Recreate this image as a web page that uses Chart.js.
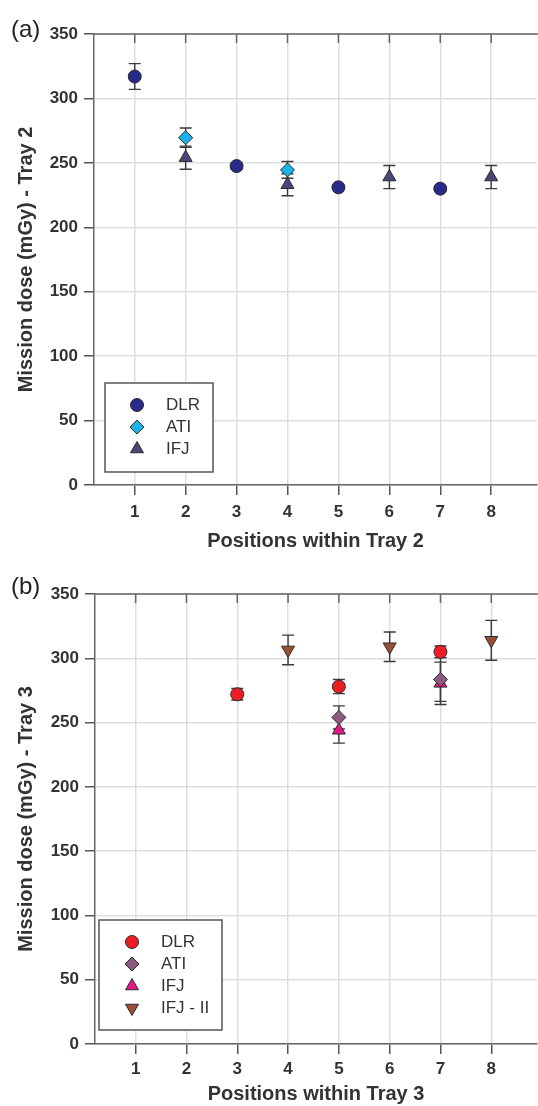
<!DOCTYPE html>
<html>
<head>
<meta charset="utf-8">
<script src="https://cdn.jsdelivr.net/npm/chart.js@4.4.1/dist/chart.umd.min.js"></script>
<style>
body { margin: 0; background: #fff; font-family: "Liberation Sans", Arial, sans-serif; }
#wrap { position: relative; width: 538px; height: 1106px; }
canvas { position: absolute; left: 0; }
.panel { position: absolute; left: 11px; font-size: 24px; color: #222; line-height: 1; }
</style>
</head>
<body>
<div id="wrap">
  <canvas id="chartA" width="538" height="553" style="top:0"></canvas>
  <canvas id="chartB" width="538" height="553" style="top:553px"></canvas>
  <div class="panel" style="top:17px">(a)</div>
  <div class="panel" style="top:574px">(b)</div>
</div>
<script>
// axis ticks
var positions = [1, 2, 3, 4, 5, 6, 7, 8];
var doseTicks = [0, 50, 100, 150, 200, 250, 300, 350];

// Tray 2 (panel a)
var dlr2Pos = [1, 3, 5, 7];
var dlr2Dose = [317, 247.5, 231, 230];
var dlr2Err = [10, 2.5, 1.5, 1.5];
var ati2Pos = [2, 4];
var ati2Dose = [269.5, 244.5];
var ati2Err = [7.5, 6.5];
var ifj2Pos = [2, 4, 6, 8];
var ifj2Dose = [254, 233, 239, 239];
var ifj2Err = [9, 8.5, 9, 9];

// Tray 3 (panel b)
var dlr3Pos = [3, 5, 7];
var dlr3Dose = [272, 278, 305];
var dlr3Err = [4.5, 5.5, 4.5];
var ati3Pos = [5, 7];
var ati3Dose = [254, 283.5];
var ati3Err = [9, 17];
var ifj3Pos = [5, 7];
var ifj3Dose = [244, 280.5];
var ifj3Err = [10, 16.5];
var ifjII3Pos = [4, 6, 8];
var ifjII3Dose = [306.5, 309, 314];
var ifjII3Err = [11.5, 11.5, 15.5];

var FONT = '"Liberation Sans", Arial, sans-serif';
Chart.defaults.font.family = FONT;

function series(label, xs, ys, errs, style, color, radius, rotation) {
  return {
    label: label,
    data: xs.map(function(x, i) { return {x: x, y: ys[i], err: errs[i]}; }),
    pointStyle: style,
    pointRotation: rotation || 0,
    pointRadius: radius,
    pointHoverRadius: radius,
    backgroundColor: color,
    borderColor: '#2b2b2b',
    borderWidth: 1,
    showLine: false
  };
}

// error bars drawn behind the markers
var errorBars = {
  id: 'errorBars',
  beforeDatasetsDraw: function(chart) {
    var ctx = chart.ctx, xs = chart.scales.x, ys = chart.scales.y;
    ctx.save();
    ctx.strokeStyle = '#3a3a3a';
    ctx.lineWidth = 1.4;
    chart.data.datasets.forEach(function(ds) {
      ds.data.forEach(function(p) {
        var px = xs.getPixelForValue(p.x);
        var top = ys.getPixelForValue(p.y + p.err);
        var bot = ys.getPixelForValue(p.y - p.err);
        ctx.beginPath();
        ctx.moveTo(px, top); ctx.lineTo(px, bot);
        ctx.moveTo(px - 6, top); ctx.lineTo(px + 6, top);
        ctx.moveTo(px - 6, bot); ctx.lineTo(px + 6, bot);
        ctx.stroke();
      });
    });
    ctx.restore();
  }
};

// legend box in the lower left corner of the plot
var boxLegend = {
  id: 'boxLegend',
  afterDatasetsDraw: function(chart, args, opts) {
    var ctx = chart.ctx, a = chart.chartArea;
    var x0 = a.left + opts.dx, y0 = a.bottom - opts.dy - opts.h;
    ctx.save();
    ctx.fillStyle = '#fff';
    ctx.fillRect(x0, y0, opts.w, opts.h);
    ctx.strokeStyle = '#555';
    ctx.lineWidth = 1.5;
    ctx.strokeRect(x0, y0, opts.w, opts.h);
    ctx.font = '17px ' + FONT;
    ctx.textBaseline = 'middle';
    chart.data.datasets.forEach(function(ds, i) {
      var cy = y0 + opts.first + i * opts.gap;
      ctx.fillStyle = ds.backgroundColor;
      ctx.strokeStyle = ds.borderColor;
      ctx.lineWidth = ds.borderWidth;
      Chart.helpers.drawPoint(ctx, {
        pointStyle: ds.pointStyle, rotation: ds.pointRotation,
        radius: ds.pointRadius, borderWidth: ds.borderWidth
      }, x0 + opts.mx, cy);
      ctx.fillStyle = '#333';
      ctx.fillText(ds.label, x0 + opts.tx, cy);
    });
    ctx.restore();
  }
};

// top frame with inward ticks
var topFrame = {
  id: 'topFrame',
  afterDraw: function(chart) {
    var ctx = chart.ctx, a = chart.chartArea, xs = chart.scales.x;
    ctx.save();
    ctx.strokeStyle = '#666';
    ctx.lineWidth = 1.5;
    ctx.beginPath();
    ctx.moveTo(a.left, a.top); ctx.lineTo(a.right + 1, a.top);
    positions.forEach(function(v) {
      var px = xs.getPixelForValue(v);
      ctx.moveTo(px, a.top); ctx.lineTo(px, a.top + 9);
    });
    ctx.stroke();
    ctx.restore();
  }
};

function makeChart(id, datasets, tray, geo) {
  return new Chart(document.getElementById(id), {
    type: 'scatter',
    data: {datasets: datasets},
    options: {
      responsive: false,
      animation: false,
      events: [],
      layout: {autoPadding: false, padding: {top: geo.top, right: 1, left: 0, bottom: 0}},
      plugins: {legend: {display: false}, tooltip: {enabled: false}, boxLegend: geo.legend},
      scales: {
        x: {
          type: 'linear', min: 0.2, max: 8.9,
          afterBuildTicks: function(s) { s.ticks = positions.map(function(v) { return {value: v}; }); },
          afterFit: function(s) { s.height = geo.xh; s.paddingLeft = 0; s.paddingRight = 0; },
          grid: {color: '#dedede', lineWidth: 1.5, tickColor: '#555', tickWidth: 1.5, tickLength: 10},
          border: {color: '#666', width: 1.5},
          ticks: {font: {size: 17, weight: 'bold'}, color: '#333', padding: geo.tp, autoSkip: false, maxRotation: 0},
          title: {display: true, text: 'Positions within Tray ' + tray, font: {size: 20, weight: 'bold'},
                  color: '#333', padding: {top: 0, bottom: 0}}
        },
        y: {
          type: 'linear', min: 0, max: 350,
          afterBuildTicks: function(s) { s.ticks = doseTicks.map(function(v) { return {value: v}; }); },
          afterFit: function(s) { s.width = geo.yw; },
          grid: {color: '#dedede', lineWidth: 1.5, tickColor: '#555', tickWidth: 1.5, tickLength: 10},
          border: {color: '#666', width: 1.5},
          ticks: {font: {size: 17, weight: 'bold'}, color: '#333', padding: 6},
          title: {display: true, text: 'Mission dose (mGy) - Tray ' + tray, font: {size: 20, weight: 'bold'},
                  color: '#333', padding: {top: 14, bottom: 0}}
        }
      }
    },
    plugins: [errorBars, boxLegend, topFrame]
  });
}

makeChart('chartA', [
  series('DLR', dlr2Pos, dlr2Dose, dlr2Err, 'circle', '#27298c', 6.5),
  series('ATI', ati2Pos, ati2Dose, ati2Err, 'rectRot', '#1ab2ea', 7),
  series('IFJ', ifj2Pos, ifj2Dose, ifj2Err, 'triangle', '#47477a', 7.5)
], 2, {top: 34, xh: 68, tp: 7, yw: 94,
       legend: {dx: 11, dy: 13, w: 108, h: 89, mx: 32, tx: 61, first: 22, gap: 22}});

makeChart('chartB', [
  series('DLR', dlr3Pos, dlr3Dose, dlr3Err, 'circle', '#ee1d23', 6.5),
  series('ATI', ati3Pos, ati3Dose, ati3Err, 'rectRot', '#8c5a7e', 7),
  series('IFJ', ifj3Pos, ifj3Dose, ifj3Err, 'triangle', '#e5168a', 7.5),
  series('IFJ - II', ifjII3Pos, ifjII3Dose, ifjII3Err, 'triangle', '#9b5033', 7.5, 180)
], 3, {top: 41, xh: 62, tp: 5, yw: 95,
       legend: {dx: 4, dy: 14, w: 123, h: 110, mx: 33, tx: 62, first: 22, gap: 22}});
</script>
</body>
</html>
